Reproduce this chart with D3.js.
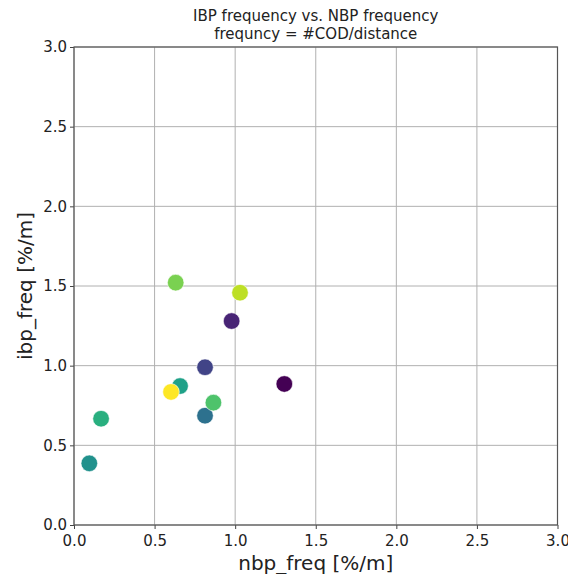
<!DOCTYPE html>
<html>
<head>
<meta charset="utf-8">
<script src="https://cdn.jsdelivr.net/npm/d3@7"></script>
<style>
  body { margin: 0; background: #fff; }
  svg text { font-family: "DejaVu Sans", sans-serif; fill: #222; }
</style>
</head>
<body>
<svg width="568" height="574"></svg>
<script>
// data
const nbpFreq = [1.305, 0.978, 0.813, 0.813, 0.095, 0.658, 0.168, 0.865, 0.631, 1.030, 0.602];
const ibpFreq = [0.885, 1.280, 0.990, 0.686, 0.387, 0.872, 0.667, 0.768, 1.521, 1.458, 0.835];
const colorValue = [0.0, 0.1, 0.2, 0.37, 0.5, 0.57, 0.63, 0.72, 0.8, 0.9, 1.0];
const tickValues = [0, 0.5, 1.0, 1.5, 2.0, 2.5, 3.0];

const svg = d3.select("svg");
const margin = { top: 47, right: 10.5, bottom: 49, left: 74 };
const width = 568 - margin.left - margin.right;
const height = 574 - margin.top - margin.bottom;

const g = svg.append("g").attr("transform", `translate(${margin.left},${margin.top})`);

const x = d3.scaleLinear().domain([0, 3]).range([0, width]);
const y = d3.scaleLinear().domain([0, 3]).range([height, 0]);
const color = d3.scaleSequential(d3.interpolateViridis).domain([0, 1]);

// grid
g.append("g").selectAll("line").data(tickValues).enter().append("line")
    .attr("x1", d => x(d)).attr("x2", d => x(d))
    .attr("y1", 0).attr("y2", height)
    .attr("stroke", "#b0b0b0").attr("stroke-width", 1);
g.append("g").selectAll("line").data(tickValues).enter().append("line")
    .attr("y1", d => y(d)).attr("y2", d => y(d))
    .attr("x1", 0).attr("x2", width)
    .attr("stroke", "#b0b0b0").attr("stroke-width", 1);

// axes
const xAxis = g.append("g")
    .attr("transform", `translate(0,${height})`)
    .call(d3.axisBottom(x).tickValues(tickValues).tickFormat(d3.format(".1f")).tickSize(4).tickSizeOuter(0));
const yAxis = g.append("g")
    .call(d3.axisLeft(y).tickValues(tickValues).tickFormat(d3.format(".1f")).tickSize(4).tickSizeOuter(0));
[xAxis, yAxis].forEach(a => {
    a.select(".domain").remove();
    a.selectAll("line").attr("stroke", "#444");
    a.selectAll("text").style("font-size", "15px").attr("fill", "#222");
});
xAxis.selectAll("text").attr("dy", "0.9em");
yAxis.selectAll("text").attr("x", -7);

// frame
g.append("rect")
    .attr("width", width).attr("height", height)
    .attr("fill", "none").attr("stroke", "#555").attr("stroke-width", 1.2);

// points
g.append("g").selectAll("circle").data(nbpFreq).enter().append("circle")
    .attr("cx", d => x(d))
    .attr("cy", (d, i) => y(ibpFreq[i]))
    .attr("r", 8.3)
    .attr("fill", (d, i) => color(colorValue[i]))
    .attr("stroke", "#fff").attr("stroke-width", 0.6);

// titles
svg.append("text").attr("x", margin.left + width / 2).attr("y", 21)
    .attr("text-anchor", "middle").style("font-size", "15px")
    .text("IBP frequency vs. NBP frequency");
svg.append("text").attr("x", margin.left + width / 2).attr("y", 39)
    .attr("text-anchor", "middle").style("font-size", "15px")
    .text("frequncy = #COD/distance");

svg.append("text").attr("x", margin.left + width / 2).attr("y", 570)
    .attr("text-anchor", "middle").style("font-size", "20px")
    .text("nbp_freq [%/m]");
svg.append("text")
    .attr("transform", `translate(32,${margin.top + height / 2}) rotate(-90)`)
    .attr("text-anchor", "middle").style("font-size", "20px")
    .text("ibp_freq [%/m]");
</script>
</body>
</html>
